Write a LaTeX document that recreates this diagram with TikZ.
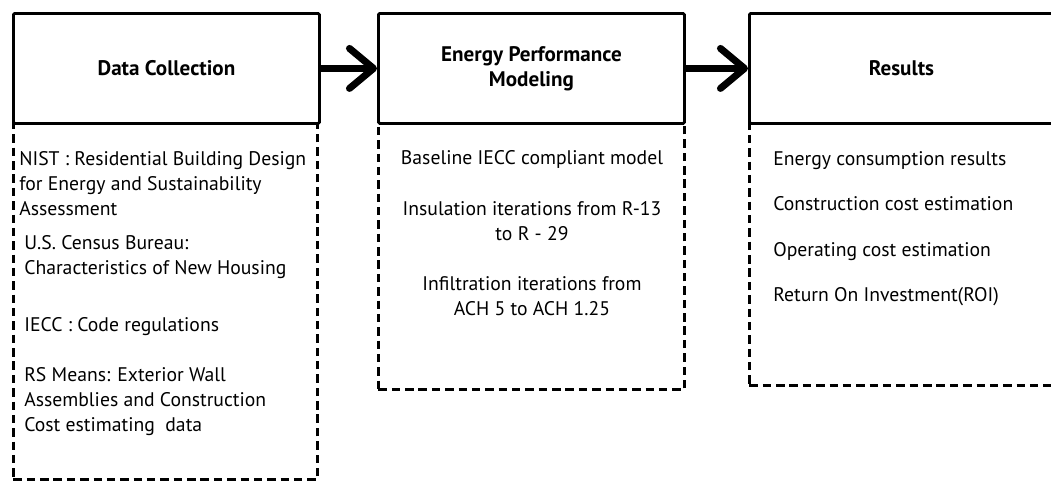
\documentclass[tikz,border=0pt]{standalone}
\usepackage{fontspec}
\setmainfont{PT Sans}
\usetikzlibrary{arrows.meta,positioning}
\tikzset{
  headbox/.style={draw, line width=2pt, rounded corners=1pt, minimum width=7.65cm,
    minimum height=2.75cm, align=center, inner sep=0pt,
    font=\bfseries\fontsize{15}{17.8}\selectfont},
  bodybox/.style={draw, line width=2pt, dash pattern=on 6pt off 3.5pt,
    minimum width=7.65cm, inner sep=0pt},
  item/.style={inner sep=0pt, font=\fontsize{14}{17.8}\selectfont},
  flow/.style={line width=5pt, -{Straight Barb[length=0.6cm, width=1.0cm, round]}}
}
\begin{document}
\begin{tikzpicture}[x=0.025cm, y=-0.025cm]
  \path[use as bounding box, clip] (0,0) rectangle (1051,480);

  % stage headers
  \node[headbox, anchor=north west] (collect) at (12,12) {Data Collection};
  \node[headbox, anchor=north west] (model) at (377,12) {Energy Performance\\Modeling};
  \node[headbox, anchor=north west, minimum width=7.6cm] (result) at (748,12) {Results};

  % dashed bodies
  \node[bodybox, anchor=north west, minimum width=7.6cm, minimum height=8.9cm] (collectbody) at (12,122) {};
  \node[bodybox, anchor=north west, minimum height=6.65cm] (modelbody) at (377,122) {};
  \node[bodybox, anchor=north west, minimum width=7.6cm, minimum height=6.55cm] (resultbody) at (748,122) {};

  % data collection items
  \node[item, anchor=north west, align=left] (nist) at (19,151)
    {NIST : Residential Building Design\\for Energy and Sustainability\\Assessment};
  \node[item, anchor=north west, align=left] (census) at (24,235)
    {U.S. Census Bureau:\\Characteristics of New Housing};
  \node[item, anchor=north west, align=left] (iecc) at (24,317) {IECC : Code regulations};
  \node[item, anchor=north west, align=left] (rsmeans) at (24,367)
    {RS Means: Exterior Wall\\Assemblies and Construction\\Cost estimating~ data};

  % modeling items
  \node[item, anchor=north, align=center] (baseline) at (532,150) {Baseline IECC compliant model};
  \node[item, anchor=north, align=center] (insul) at (532,201) {Insulation iterations from R-13\\to R - 29};
  \node[item, anchor=north, align=center] (infil) at (532,276) {Infiltration iterations from\\ACH 5 to ACH 1.25};

  % result items
  \node[item, anchor=north west] (energy) at (773,151) {Energy consumption results};
  \node[item, anchor=north west] (constr) at (773,196.5) {Construction cost estimation};
  \node[item, anchor=north west] (operate) at (773,242) {Operating cost estimation};
  \node[item, anchor=north west] (roi) at (773,287.5) {Return On Investment(ROI)};

  % flow arrows
  \draw[flow] (collect) -- (model);
  \draw[flow] (model) -- (result);
\end{tikzpicture}
\end{document}
